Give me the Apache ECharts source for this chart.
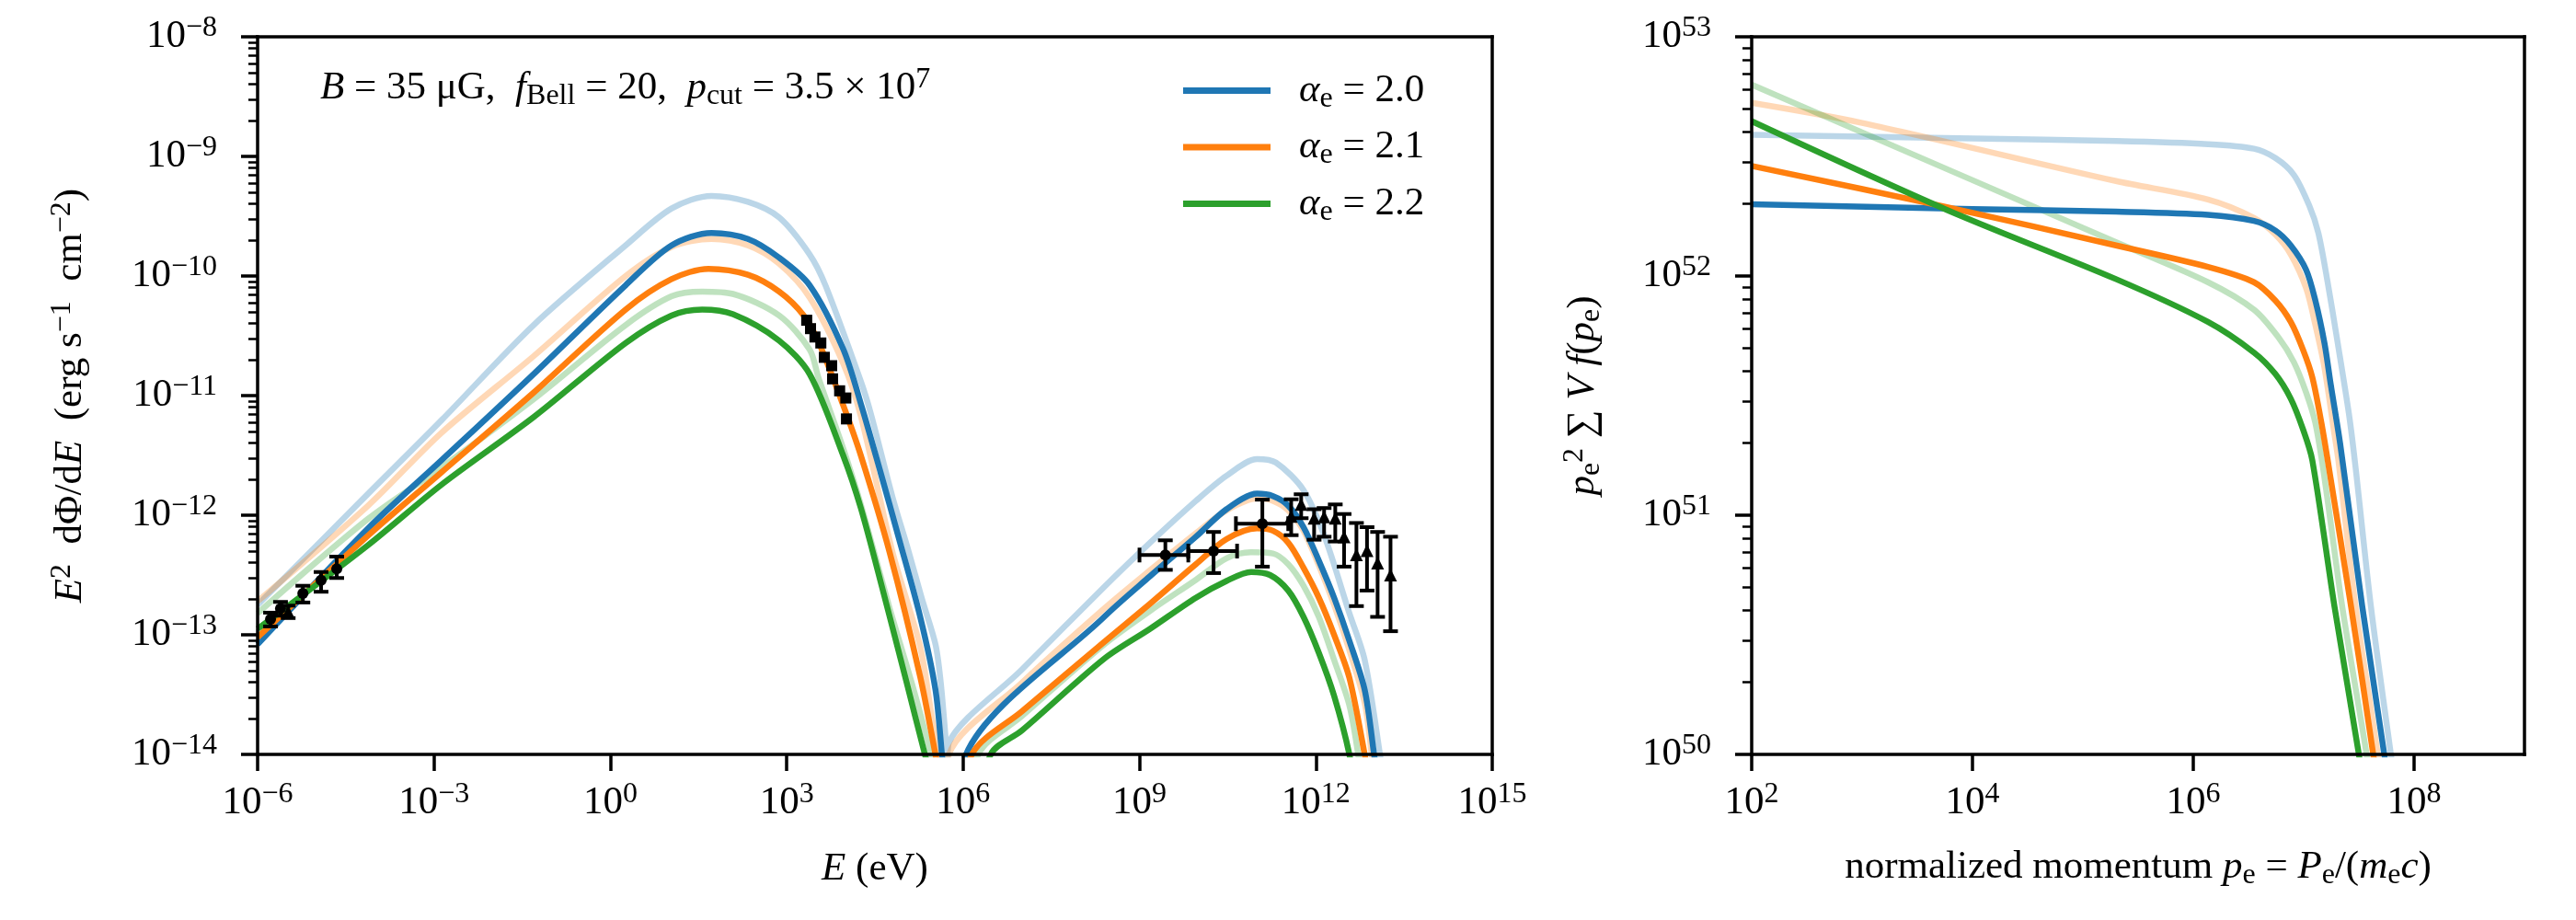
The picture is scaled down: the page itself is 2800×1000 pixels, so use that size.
<!DOCTYPE html>
<html>
<head>
<meta charset="utf-8">
<script src="https://cdn.jsdelivr.net/npm/echarts@6/dist/echarts.min.js"></script>
<style>
  html, body { margin: 0; background: #fff; }
  #main { width: 2800px; height: 1000px; }
</style>
</head>
<body>
<div id="main"></div>
<script>
// every number below is a log10 value
// left panel: [log10 E (eV), log10 E^2 dPhi/dE (erg s^-1 cm^-2)]
const sedA20 = [[-6, -13.08], [-4.12, -12.11], [-2.87, -11.54], [-1.305, -10.82], [0.26, -10.077], [1.04, -9.744], [1.72, -9.64], [2.34, -9.69], [2.87, -9.846], [3.39, -10.077], [3.96, -10.61], [4.28, -11.1], [4.6, -11.65], [4.9, -12.18], [5.27, -12.85], [5.53, -13.46], [5.64, -14.0], [5.84, -15.0], [6.05, -14.0], [8.4, -12.85], [9.18, -12.51], [9.96, -12.18], [10.48, -11.95], [11.0, -11.82], [11.27, -11.84], [11.53, -11.92], [11.79, -12.1], [12.05, -12.38], [12.31, -12.69], [12.57, -13.05], [12.83, -13.46], [12.99, -14.0], [13.1, -14.4]]
const sedA20Alt = [[-6, -12.75], [-4.12, -11.82], [-2.87, -11.205], [-1.305, -10.41], [0.26, -9.744], [1.04, -9.436], [1.72, -9.33], [2.34, -9.38], [2.87, -9.51], [3.39, -9.82], [3.66, -10.08], [4.26, -10.88], [4.43, -11.15], [4.8, -11.85], [5.06, -12.28], [5.3, -12.7], [5.53, -13.08], [5.62, -13.4], [5.7, -13.85], [5.73, -14.05], [5.76, -13.9], [7.0, -13.29], [8.4, -12.6], [9.18, -12.23], [9.96, -11.88], [10.48, -11.67], [11.0, -11.53], [11.32, -11.56], [11.79, -11.79], [12.15, -12.18], [12.57, -12.82], [12.83, -13.21], [13.09, -14.0], [13.2, -14.4]]
const sedA21 = [[-6, -13.02], [-4.12, -12.17], [-2.87, -11.64], [-1.305, -10.975], [0.26, -10.28], [1.04, -10.026], [1.67, -9.94], [2.34, -9.99], [2.87, -10.13], [3.29, -10.33], [3.54, -10.55], [3.96, -11.08], [4.26, -11.5], [4.75, -12.31], [5.27, -13.35], [5.53, -14.0], [5.85, -14.8], [6.15, -14.0], [7.0, -13.64], [8.4, -13.06], [9.18, -12.74], [9.96, -12.41], [10.48, -12.2], [11.0, -12.11], [11.27, -12.13], [11.53, -12.23], [11.79, -12.44], [12.05, -12.69], [12.31, -13.0], [12.57, -13.36], [12.83, -14.0], [12.93, -14.3]]
const sedA21Alt = [[-6, -12.72], [-4.12, -11.92], [-2.87, -11.31], [-1.305, -10.67], [0.26, -10.0], [1.04, -9.757], [1.72, -9.69], [2.34, -9.744], [2.87, -9.897], [3.39, -10.18], [3.96, -10.73], [4.26, -11.17], [4.8, -12.31], [5.27, -13.1], [5.48, -13.72], [5.6, -14.0], [5.68, -14.5], [5.76, -14.0], [7.0, -13.4], [8.4, -12.78], [9.18, -12.46], [9.96, -12.15], [10.48, -11.96], [11.0, -11.86], [11.27, -11.88], [11.53, -11.96], [11.79, -12.13], [12.05, -12.42], [12.31, -12.75], [12.57, -13.13], [12.83, -13.57], [12.95, -14.0], [13.05, -14.4]]
const sedA22 = [[-6, -12.95], [-4.12, -12.25], [-2.87, -11.744], [-1.305, -11.18], [0.26, -10.56], [1.04, -10.33], [1.56, -10.28], [2.086, -10.32], [2.87, -10.54], [3.39, -10.82], [3.96, -11.5], [4.26, -11.94], [4.62, -12.6], [5.04, -13.4], [5.35, -14.0], [5.9, -15.0], [6.47, -14.0], [7.0, -13.8], [8.4, -13.2], [9.18, -12.95], [9.96, -12.69], [10.48, -12.55], [10.9, -12.475], [11.22, -12.5], [11.53, -12.63], [11.79, -12.85], [12.05, -13.15], [12.31, -13.51], [12.57, -14.0], [12.65, -14.3]]
const sedA22Alt = [[-6, -12.82], [-4.12, -12.03], [-2.87, -11.6], [-1.305, -11.03], [0.26, -10.41], [1.04, -10.17], [1.56, -10.13], [2.086, -10.15], [2.87, -10.33], [3.39, -10.615], [3.54, -10.85], [3.96, -11.44], [4.26, -11.91], [4.74, -12.76], [5.16, -13.46], [5.45, -14.0], [5.85, -14.9], [6.26, -14.0], [7.0, -13.68], [8.4, -13.08], [9.18, -12.8], [9.96, -12.54], [10.48, -12.36], [10.9, -12.31], [11.27, -12.32], [11.53, -12.41], [11.79, -12.59], [12.05, -12.85], [12.31, -13.21], [12.57, -13.59], [12.72, -14.0], [12.8, -14.3]]

// measured points: [log E, log F, log F low, log F high]
const radioDots = [[-5.78, -12.87, -12.93, -12.815], [-5.61, -12.78, -12.84, -12.725], [-5.23, -12.654, -12.73, -12.59], [-4.92, -12.544, -12.64, -12.475], [-4.654, -12.449, -12.525, -12.346]]
const radioTris = [[-5.48, -12.808, -12.86, -12.756]]
const xraySquares = [[3.34, -10.37], [3.405, -10.44], [3.48, -10.51], [3.58, -10.56], [3.64, -10.68], [3.765, -10.75], [3.78, -10.86], [3.9, -10.96], [4.005, -11.02], [4.016, -11.195]]
// [log E, log F, log F low, log F high, log E low, log E high]
const gevDots = [[9.44, -12.333, -12.457, -12.21, 9.0, 9.83], [10.26, -12.3, -12.484, -12.14, 9.83, 10.66], [11.09, -12.071, -12.43, -11.87, 10.64, 11.53]]
const tevTris = [[11.58, -12.01, -12.167, -11.867], [11.75, -11.91, -12.025, -11.825], [11.97, -12.025, -12.205, -11.95], [12.14, -12.013, -12.18, -11.94], [12.33, -12.025, -12.22, -11.91], [12.48, -12.18, -12.43, -11.99], [12.69, -12.33, -12.76, -12.065], [12.87, -12.296, -12.63, -12.1], [13.05, -12.4, -12.85, -12.14], [13.27, -12.5, -12.97, -12.18]]

// right panel: [log10 p_e, log10 p_e^2 sum V f(p_e)]
const momA20 = [[2, 52.3], [4, 52.28], [5.3, 52.269], [6.133, 52.256], [6.55, 52.23], [6.744, 52.19], [6.883, 52.128], [7.022, 52.026], [7.106, 51.897], [7.189, 51.718], [7.244, 51.55], [7.33, 51.3], [7.53, 50.62], [7.73, 50.0], [7.8, 49.75]]
const momA20Alt = [[2, 52.59], [4, 52.575], [5.3, 52.564], [6.133, 52.551], [6.55, 52.532], [6.744, 52.493], [6.911, 52.423], [7.05, 52.295], [7.133, 52.18], [7.217, 51.974], [7.3, 51.743], [7.41, 51.423], [7.47, 51.2], [7.61, 50.615], [7.79, 50.0], [7.85, 49.8]]
const momA21 = [[2, 52.46], [3.75, 52.29], [5.3, 52.128], [6.133, 52.038], [6.55, 51.974], [6.744, 51.897], [6.883, 51.808], [6.994, 51.692], [7.078, 51.577], [7.161, 51.385], [7.244, 51.154], [7.43, 50.615], [7.63, 50.0], [7.7, 49.75]]
const momA21Alt = [[2, 52.724], [3, 52.64], [5.3, 52.397], [6.133, 52.32], [6.55, 52.243], [6.744, 52.173], [6.883, 52.09], [7.022, 51.949], [7.106, 51.795], [7.189, 51.615], [7.272, 51.359], [7.314, 51.23], [7.47, 50.615], [7.67, 50.0], [7.73, 49.75]]
const momA22 = [[2, 52.647], [3.75, 52.28], [5.3, 51.987], [6.133, 51.808], [6.55, 51.68], [6.744, 51.59], [6.883, 51.487], [6.994, 51.359], [7.078, 51.23], [7.28, 50.615], [7.5, 50.0], [7.56, 49.8]]
const momA22Alt = [[2, 52.8], [5.3, 52.141], [6.133, 51.974], [6.55, 51.859], [6.772, 51.743], [6.911, 51.64], [7.022, 51.513], [7.106, 51.385], [7.189, 51.154], [7.35, 50.615], [7.57, 50.0], [7.63, 49.8]]

// tick positions (decade exponents)
const sedXTicks = [-6, -3, 0, 3, 6, 9, 12, 15]
const sedYTicks = [-14, -13, -12, -11, -10, -9, -8]
const momXTicks = [2, 4, 6, 8]
const momYTicks = [50, 51, 52, 53]

const BLUE = '#1f77b4'
const ORANGE = '#ff7f0e'
const GREEN = '#2ca02c'
const FONT = 'Liberation Serif'

function richSet (size) {
  const small = Math.round(size * 0.74)
  return {
    r: { fontFamily: FONT, fontSize: size, lineHeight: 50, color: '#000' },
    i: { fontFamily: FONT, fontSize: size, fontStyle: 'italic', lineHeight: 50, color: '#000' },
    sp: { fontFamily: FONT, fontSize: small, lineHeight: 28, verticalAlign: 'top', color: '#000' },
    sb: { fontFamily: FONT, fontSize: small, lineHeight: 28, verticalAlign: 'bottom', color: '#000' },
    g: { width: 26 }
  }
}

function powLabel (v) {
  const n = Math.round(v)
  return '{r|10}{sp|' + (n < 0 ? '\u2212' + (-n) : n) + '}'
}

function minorTicks (lo, hi) {
  const res = []
  for (let d = lo; d < hi; d++) {
    for (let m = 2; m <= 9; m++) res.push(d + Math.log10(m))
  }
  return res
}

const spine = { show: true, onZero: false, lineStyle: { color: '#000', width: 3.5, cap: 'square' } }

function mainX (grid, min, max, ticks, name, gap) {
  return {
    type: 'value', gridIndex: grid, position: 'bottom', min, max, interval: ticks[1] - ticks[0], z: 10,
    axisLine: spine,
    axisTick: { show: true, length: 18, lineStyle: { color: '#000', width: 3.5 }, customValues: ticks },
    axisLabel: { customValues: ticks, margin: 28, formatter: powLabel, rich: richSet(43) },
    splitLine: { show: false },
    name, nameLocation: 'middle', nameGap: gap, nameTextStyle: { rich: richSet(43), fontFamily: FONT, fontSize: 43 }
  }
}
function topX (grid, min, max) {
  return { type: 'value', gridIndex: grid, position: 'top', min, max, z: 10, axisLine: spine, axisTick: { show: false }, axisLabel: { show: false }, splitLine: { show: false } }
}
function mainY (grid, min, max, ticks, name, gap) {
  return {
    type: 'value', gridIndex: grid, position: 'left', min, max, interval: 1, z: 10,
    axisLine: spine,
    axisTick: { show: true, length: 18, lineStyle: { color: '#000', width: 3.5 }, customValues: ticks },
    axisLabel: { customValues: ticks, margin: 44, formatter: powLabel, rich: richSet(43) },
    splitLine: { show: false },
    name, nameLocation: 'middle', nameRotate: 90, nameGap: gap, nameTextStyle: { rich: richSet(43), fontFamily: FONT, fontSize: 43 }
  }
}
function minorY (grid, min, max) {
  return {
    type: 'value', gridIndex: grid, position: 'left', min, max, z: 10,
    axisLine: { show: false, onZero: false },
    axisTick: { show: true, length: 10, lineStyle: { color: '#000', width: 2.5 }, customValues: minorTicks(min, max) },
    axisLabel: { show: false }, splitLine: { show: false }
  }
}
function rightY (grid, min, max) {
  return { type: 'value', gridIndex: grid, position: 'right', min, max, z: 10, axisLine: spine, axisTick: { show: false }, axisLabel: { show: false }, splitLine: { show: false } }
}

function curve (name, pts, color, light, xi, yi) {
  return {
    name, type: 'line', xAxisIndex: xi, yAxisIndex: yi, data: pts,
    symbol: 'none', smooth: 0.3, clip: true, silent: true,
    lineStyle: { color, width: 6.5, opacity: light ? 0.3 : 1, cap: 'butt', join: 'round' },
    itemStyle: { color },
    z: light ? 2 : 3
  }
}

function errorBars (rows) {
  return {
    type: 'custom', xAxisIndex: 0, yAxisIndex: 0, data: rows, z: 5, silent: true,
    encode: { x: 0, y: 1 },
    renderItem (params, api) {
      const x = api.value(0)
      const y = api.value(1)
      const st = { stroke: '#000', lineWidth: 4, fill: null }
      const cap = 8
      const lo = api.coord([x, api.value(2)])
      const hi = api.coord([x, api.value(3)])
      const kids = [
        { type: 'line', shape: { x1: lo[0], y1: lo[1], x2: hi[0], y2: hi[1] }, style: st },
        { type: 'line', shape: { x1: lo[0] - cap, y1: lo[1], x2: lo[0] + cap, y2: lo[1] }, style: st },
        { type: 'line', shape: { x1: hi[0] - cap, y1: hi[1], x2: hi[0] + cap, y2: hi[1] }, style: st }
      ]
      const xl = api.value(4)
      if (!isNaN(xl)) {
        const a = api.coord([xl, y])
        const b = api.coord([api.value(5), y])
        kids.push({ type: 'line', shape: { x1: a[0], y1: a[1], x2: b[0], y2: b[1] }, style: st })
        kids.push({ type: 'line', shape: { x1: a[0], y1: a[1] - cap, x2: a[0], y2: a[1] + cap }, style: st })
        kids.push({ type: 'line', shape: { x1: b[0], y1: b[1] - cap, x2: b[0], y2: b[1] + cap }, style: st })
      }
      return { type: 'group', children: kids }
    }
  }
}

function markers (rows, symbol, size) {
  return {
    type: 'scatter', xAxisIndex: 0, yAxisIndex: 0, symbol, symbolSize: size, z: 6, silent: true,
    data: rows.map(r => [r[0], r[1]]),
    itemStyle: { color: '#000', opacity: 1 }
  }
}

const legendLabels = {
  a20: '{g| }{i|\u03b1}{sb|e}{r| = 2.0}',
  a21: '{g| }{i|\u03b1}{sb|e}{r| = 2.1}',
  a22: '{g| }{i|\u03b1}{sb|e}{r| = 2.2}'
}

const chart = echarts.init(document.getElementById('main'), null, { renderer: 'canvas' })
const option = {
  animation: false,
  backgroundColor: '#fff',
  textStyle: { fontFamily: FONT, color: '#000' },
  grid: [
    { left: 280, top: 40, width: 1342, height: 780 },
    { left: 1904, top: 40, width: 840, height: 780 }
  ],
  xAxis: [
    mainX(0, -6, 15, sedXTicks, '{i|E}{r| (eV)}', 100),
    topX(0, -6, 15),
    mainX(1, 2, 9, momXTicks, '{r|normalized momentum }{i|p}{sb|e}{r| = }{i|P}{sb|e}{r|/(}{i|m}{sb|e}{i|c}{r|)}', 98),
    topX(1, 2, 9)
  ],
  yAxis: [
    mainY(0, -14, -8, sedYTicks, '{i|E}{sp|2}{r|  d\u03a6/d}{i|E}{r|  (erg s}{sp|\u22121}{r|  cm}{sp|\u22122}{r|)}', 178),
    minorY(0, -14, -8),
    rightY(0, -14, -8),
    mainY(1, 50, 53, momYTicks, '{i|p}{sb|e}{sp|2}{r| \u2211 }{i|V f}{r|(}{i|p}{sb|e}{r|)}', 158),
    minorY(1, 50, 53),
    rightY(1, 50, 53)
  ],
  legend: {
    data: ['a20', 'a21', 'a22'],
    orient: 'vertical', left: 1281, top: 72, icon: 'rect',
    itemWidth: 95, itemHeight: 7, itemGap: 15,
    formatter: n => legendLabels[n],
    textStyle: { fontFamily: FONT, fontSize: 43, rich: richSet(43) },
    selectedMode: false
  },
  graphic: [{
    type: 'text', left: 348, top: 71, z: 20,
    style: {
      text: '{i|B}{r| = 35 \u03bcG,  }{i|f}{sb|Bell}{r| = 20,  }{i|p}{sb|cut}{r| = 3.5 \u00d7 10}{sp|7}',
      rich: richSet(43), fontFamily: FONT, fontSize: 43, fill: '#000'
    }
  }],
  series: [
    curve('a20 light', sedA20Alt, BLUE, true, 0, 0),
    curve('a21 light', sedA21Alt, ORANGE, true, 0, 0),
    curve('a22 light', sedA22Alt, GREEN, true, 0, 0),
    curve('a20', sedA20, BLUE, false, 0, 0),
    curve('a21', sedA21, ORANGE, false, 0, 0),
    curve('a22', sedA22, GREEN, false, 0, 0),
    curve('a20 light', momA20Alt, BLUE, true, 2, 3),
    curve('a21 light', momA21Alt, ORANGE, true, 2, 3),
    curve('a22 light', momA22Alt, GREEN, true, 2, 3),
    curve('a20', momA20, BLUE, false, 2, 3),
    curve('a21', momA21, ORANGE, false, 2, 3),
    curve('a22', momA22, GREEN, false, 2, 3),
    errorBars(radioDots),
    errorBars(radioTris),
    errorBars(gevDots),
    errorBars(tevTris),
    markers(radioDots, 'circle', 12),
    markers(radioTris, 'triangle', 14),
    markers(xraySquares, 'rect', 12),
    markers(gevDots, 'circle', 12),
    markers(tevTris, 'triangle', 14)
  ]
}
chart.setOption(option)
</script>
</body>
</html>
